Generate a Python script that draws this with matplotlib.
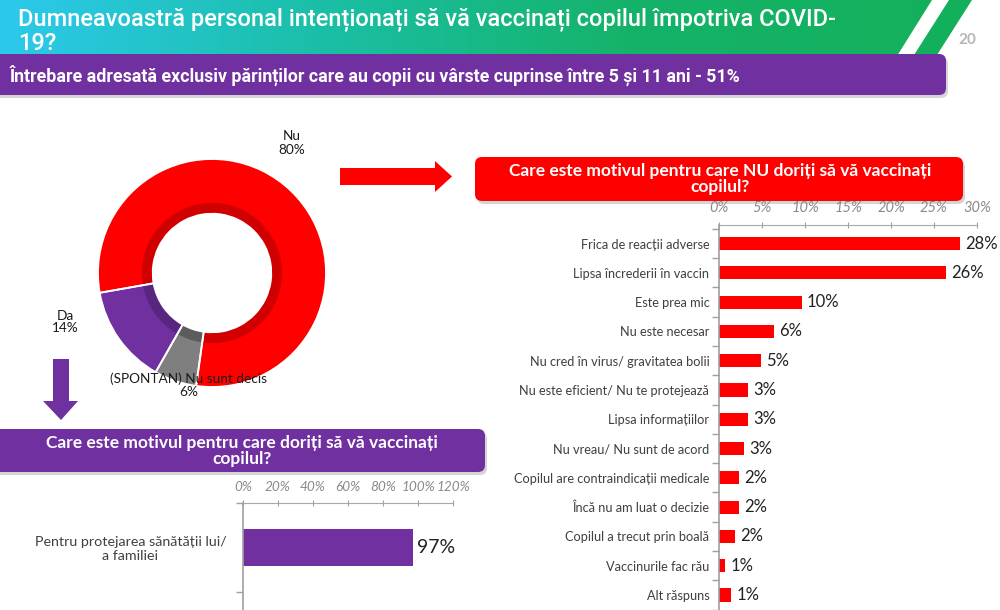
import matplotlib
matplotlib.use("Agg")
import matplotlib.pyplot as plt
import numpy as np
from matplotlib.patches import FancyBboxPatch, Polygon
from matplotlib.colors import LinearSegmentedColormap
from matplotlib.ticker import FixedLocator, FuncFormatter

# ---------------- data ----------------
title = "Dumneavoastră personal intenționați să vă vaccinați copilul împotriva COVID-\n19?"
page_no = "20"
subtitle = "Întrebare adresată exclusiv părinților care au copii cu vârste cuprinse între 5 și 11 ani - 51%"

pie_labels = ["Nu", "(SPONTAN) Nu sunt decis", "Da"]
pie_values = [80, 6, 14]

no_question = "Care este motivul pentru care NU doriți să vă vaccinați\ncopilul?"
no_reasons = ["Frica de reacții adverse", "Lipsa încrederii în vaccin", "Este prea mic",
              "Nu este necesar", "Nu cred în virus/ gravitatea bolii",
              "Nu este eficient/ Nu te protejează", "Lipsa informațiilor",
              "Nu vreau/ Nu sunt de acord", "Copilul are contraindicații medicale",
              "Încă nu am luat o decizie", "Copilul a trecut prin boală",
              "Vaccinurile fac rău", "Alt răspuns"]
no_values = [28.0, 26.4, 9.6, 6.4, 4.9, 3.4, 3.4, 2.9, 2.3, 2.3, 1.9, 0.7, 1.4]
no_labels = ["28%", "26%", "10%", "6%", "5%", "3%", "3%", "3%", "2%", "2%", "2%", "1%", "1%"]
no_ticks = [0, 5, 10, 15, 20, 25, 30]

yes_question = "Care este motivul pentru care doriți să vă vaccinați\ncopilul?"
yes_reasons = ["Pentru protejarea sănătății lui/\na familiei"]
yes_values = [97]
yes_labels = ["97%"]
yes_ticks = [0, 20, 40, 60, 80, 100, 120]

# ---------------- style ----------------
RED = "#ff0000"
PURPLE = "#7030a0"
GREY = "#7f7f7f"
TXT = "#404040"
BODY = ["Lato", "DejaVu Sans"]
NARROW = ["Liberation Sans Narrow", "Roboto", "DejaVu Sans"]

W, H = 1000, 610
fig = plt.figure(figsize=(W / 100, H / 100), dpi=100)
fig.patch.set_facecolor("white")


def px_axes(l, t, r, b, **kw):
    return fig.add_axes([l / W, 1 - b / H, (r - l) / W, (b - t) / H], **kw)


# overlay in pixel coordinates
ov = fig.add_axes([0, 0, 1, 1])
ov.set_xlim(0, W)
ov.set_ylim(H, 0)
ov.axis("off")
ov.set_zorder(0)

# header gradient
cmap = LinearSegmentedColormap.from_list("hdr", ["#2cc9ec", "#1bbfa8", "#15b36a", "#13b05c"])
grad = np.linspace(0, 1, 512).reshape(1, -1)
im = ov.imshow(grad, cmap=cmap, extent=[0, 940, 56, 0], aspect="auto", zorder=1)
clip = Polygon([(0, 0), (932, 0), (897, 56), (0, 56)], closed=True, transform=ov.transData)
im.set_clip_path(clip)
ov.add_patch(Polygon([(949, 0), (972, 0), (937, 55), (914, 55)], closed=True,
                     facecolor="#13b05c", edgecolor="none", zorder=1))
ov.text(18, 7, title, color="white", fontsize=17, fontweight="medium", family=NARROW,
        va="top", ha="left", linespacing=1.08, zorder=3)
ov.text(967, 40, page_no, color="#b5b5b5", fontsize=11, fontweight="bold",
        family=BODY, ha="center", va="center", zorder=3)


def banner(x0, y0, x1, y1, color, text, tx, ty, ha, fs, family, r=7):
    sh = FancyBboxPatch((x0 + 2, y0 + 3), x1 - x0, y1 - y0,
                        boxstyle=f"round,pad=0,rounding_size={r}",
                        facecolor="#b9b9b9", edgecolor="none", alpha=0.6, zorder=2)
    ov.add_patch(sh)
    b = FancyBboxPatch((x0, y0), x1 - x0, y1 - y0,
                       boxstyle=f"round,pad=0,rounding_size={r}",
                       facecolor=color, edgecolor="none", zorder=2.5)
    ov.add_patch(b)
    ov.text(tx, ty, text, color="white", fontsize=fs, fontweight="bold", family=family,
            ha=ha, va="center", multialignment="center", linespacing=1.0, zorder=3)


banner(-10, 54, 946, 95, PURPLE, subtitle, 10, 75, "left", 12.8, NARROW)
banner(475, 157, 963, 201, RED, no_question, 720, 179, "center", 12.5, BODY)
banner(-10, 429, 485, 472, PURPLE, yes_question, 242, 451, "center", 12.5, BODY)

# arrows
ov.add_patch(Polygon([(340, 168), (435, 168), (435, 161), (452, 176.5), (435, 192),
                      (435, 185), (340, 185)], closed=True, facecolor=RED,
                     edgecolor="none", zorder=2))
ov.add_patch(Polygon([(53, 359), (69, 359), (69, 401), (78, 401), (61, 420), (43, 401),
                      (53, 401)], closed=True, facecolor=PURPLE, edgecolor="none", zorder=2))

# ---------------- donut ----------------
cx, cy, R = 212, 273, 114
pax = px_axes(cx - R, cy - R, cx + R, cy + R)
pie_colors = [RED, GREY, PURPLE]
pie_dark = ["#d00000", "#5c5c5c", "#58267f"]
pax.pie(pie_values, colors=pie_colors, startangle=190, counterclock=False, radius=1.0,
        wedgeprops=dict(width=0.48, edgecolor="none", linewidth=0))
pax.pie(pie_values, colors=pie_dark, startangle=190, counterclock=False, radius=0.615,
        wedgeprops=dict(width=0.095, edgecolor="none", linewidth=0))
wedges, _ = pax.pie(pie_values, colors=pie_colors, startangle=190, counterclock=False,
                    radius=1.0, wedgeprops=dict(width=0.48, edgecolor="white", linewidth=1.3))
for w in wedges:
    w.set_facecolor("none")
pax.set_xlim(-1, 1)
pax.set_ylim(-1, 1)
pax.set_aspect("equal")
pax.axis("off")

label_pos = [(292, 143), (189, 385), (65, 322)]
for lab, val, (lx, ly) in zip(pie_labels, pie_values, label_pos):
    fig.text(lx / W, 1 - ly / H, f"{lab}\n{val}%", fontsize=9.8, family=BODY,
             color="#1a1a1a", ha="center", va="center", linespacing=1.1, zorder=10)

# ---------------- red bar chart ----------------
ax = px_axes(719, 225, 977, 615)
n = len(no_reasons)
ypos = np.arange(n)
ax.barh(ypos, no_values, height=0.45, color=RED, edgecolor="none", zorder=2)
for y, v, lab in zip(ypos, no_values, no_labels):
    ax.text(v + 0.6, y, lab, fontsize=12, family=BODY, color="#222222",
            va="center", ha="left", clip_on=False)
ax.set_xlim(0, 30)
ax.set_ylim(12 + 20 / 29.25, -18.5 / 29.25)
ax.xaxis.set_ticks_position("top")
ax.xaxis.set_major_locator(FixedLocator(no_ticks))
ax.xaxis.set_major_formatter(FuncFormatter(lambda x, p: f"{x:.0f}%"))
ax.tick_params(axis="x", direction="inout", length=4, color="#a0a0a0", pad=5,
               labelsize=10.5, labelcolor="#8a8a8a")
for t in ax.get_xticklabels():
    t.set_fontstyle("italic")
    t.set_family(BODY)
ax.set_yticks(ypos)
ax.set_yticklabels(no_reasons, fontsize=9.2, family=BODY, color=TXT)
ax.tick_params(axis="y", which="major", length=0, pad=7)
ax.yaxis.set_minor_locator(FixedLocator(np.arange(n + 1) - 0.5))
ax.tick_params(axis="y", which="minor", length=5, color="#a0a0a0", width=1)
for s in ["right", "bottom"]:
    ax.spines[s].set_visible(False)
ax.spines["top"].set_linestyle((0, (1, 1)))
ax.spines["top"].set_color("#a8a8a8")
ax.spines["left"].set_color("#a0a0a0")
ax.spines["left"].set_linewidth(1.2)
ax.patch.set_alpha(0)

# ---------------- purple bar chart ----------------
ax2 = px_axes(243, 503, 453, 615)
yp = np.arange(len(yes_reasons))
ax2.barh(yp, yes_values, height=0.42, color=PURPLE, edgecolor="none", zorder=2)
for y, v, lab in zip(yp, yes_values, yes_labels):
    ax2.text(v + 2.3, y, lab, fontsize=14, family=BODY, color="#222222",
             va="center", ha="left", clip_on=False)
ax2.set_xlim(0, 120)
ax2.set_ylim(0.5 + 23 / 89, -0.5)
ax2.xaxis.set_ticks_position("top")
ax2.xaxis.set_major_locator(FixedLocator(yes_ticks))
ax2.xaxis.set_major_formatter(FuncFormatter(lambda x, p: f"{x:.0f}%"))
ax2.tick_params(axis="x", direction="inout", length=4, color="#a0a0a0", pad=5,
                labelsize=9.8, labelcolor="#8a8a8a")
for t in ax2.get_xticklabels():
    t.set_fontstyle("italic")
    t.set_family(BODY)
ax2.set_yticks(yp)
ax2.set_yticklabels(yes_reasons, fontsize=10.3, family=BODY, color=TXT,
                    multialignment="center")
ax2.tick_params(axis="y", which="major", length=0, pad=12)
ax2.yaxis.set_minor_locator(FixedLocator(np.arange(len(yes_reasons) + 1) - 0.5))
ax2.tick_params(axis="y", which="minor", length=5, color="#a0a0a0", width=1)
for s in ["right", "bottom"]:
    ax2.spines[s].set_visible(False)
ax2.spines["top"].set_linestyle((0, (1, 1)))
ax2.spines["top"].set_color("#a8a8a8")
ax2.spines["left"].set_color("#a0a0a0")
ax2.spines["left"].set_linewidth(1.2)
ax2.patch.set_alpha(0)

fig.savefig("out.png", dpi=100, facecolor="white")
